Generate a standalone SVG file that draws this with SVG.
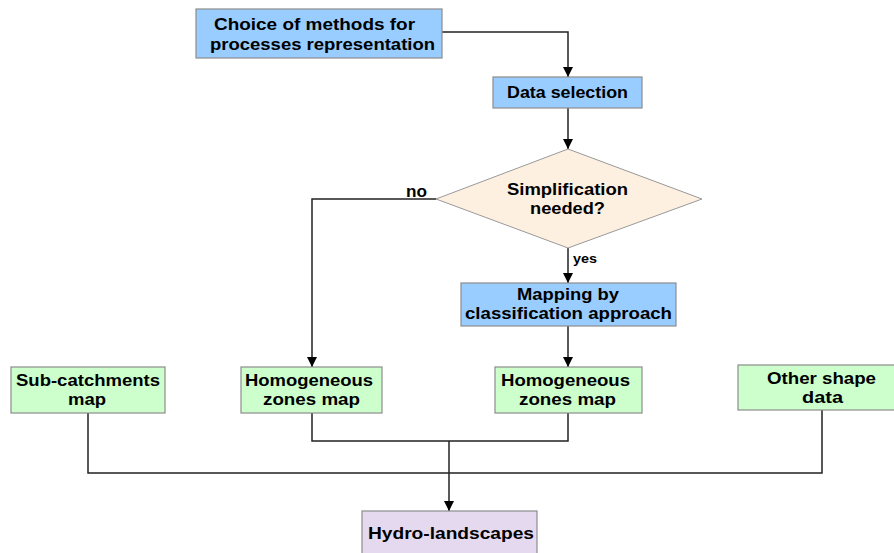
<svg xmlns="http://www.w3.org/2000/svg" width="894" height="553" viewBox="0 0 894 553">
<defs>
<marker id="arr" viewBox="0 0 10 12" refX="10" refY="6" markerWidth="10" markerHeight="12" markerUnits="userSpaceOnUse" orient="auto">
<path d="M0,1 L10,6 L0,11 Z" fill="#000"/>
</marker>
</defs>
<style>
.box{stroke:#8c8c8c;stroke-width:1.2}
.blue{fill:#99ccff}
.green{fill:#ccffcc}
.purple{fill:#e5d9f0}
.dia{fill:#fdf0e1;stroke:#999;stroke-width:1}
.t{font-family:"Liberation Sans",Arial,sans-serif;font-weight:bold;font-size:16px;fill:#000}
.s{font-size:13px}
.c{fill:none;stroke:#222;stroke-width:1.5}
</style>
<rect width="894" height="553" fill="#fff"/>
<g id="connectors">
<polyline class="c" points="442,32 568,32 568,77" marker-end="url(#arr)"/>
<polyline class="c" points="568,104 568,149" marker-end="url(#arr)"/>
<polyline class="c" points="436,199 312,199 312,367" marker-end="url(#arr)"/>
<polyline class="c" points="568,248 568,283" marker-end="url(#arr)"/>
<polyline class="c" points="568,326 568,367" marker-end="url(#arr)"/>
<polyline class="c" points="312,413 312,441 568,441 568,413"/>
<polyline class="c" points="449,441 449,511" marker-end="url(#arr)"/>
<polyline class="c" points="88,413 88,473 822,473 822,410"/>
<text class="t" x="406" y="197" textLength="21" lengthAdjust="spacingAndGlyphs">no</text>
<text class="t s" x="573" y="263" textLength="24" lengthAdjust="spacingAndGlyphs">yes</text>
</g>
<g id="choice">
<rect class="box blue" x="196" y="9" width="246" height="49"/>
<text class="t" x="214" y="30" textLength="201" lengthAdjust="spacingAndGlyphs">Choice of methods for</text>
<text class="t" x="210" y="50" textLength="225" lengthAdjust="spacingAndGlyphs">processes representation</text>
</g>
<g id="data">
<rect class="box blue" x="493" y="77" width="149" height="31"/>
<text class="t" x="507" y="98" textLength="121" lengthAdjust="spacingAndGlyphs">Data selection</text>
</g>
<g id="decision">
<polygon class="dia" points="568,149 702,199 568,248 436,199"/>
<text class="t" x="507" y="195" textLength="121" lengthAdjust="spacingAndGlyphs">Simplification</text>
<text class="t" x="530" y="214" textLength="75" lengthAdjust="spacingAndGlyphs">needed?</text>
</g>
<g id="mapping">
<rect class="box blue" x="461" y="283" width="215" height="43"/>
<text class="t" x="517" y="300" textLength="102" lengthAdjust="spacingAndGlyphs">Mapping by</text>
<text class="t" x="465" y="319" textLength="207" lengthAdjust="spacingAndGlyphs">classification approach</text>
</g>
<g id="subcatchments">
<rect class="box green" x="11" y="367" width="154" height="46"/>
<text class="t" x="16" y="386" textLength="144" lengthAdjust="spacingAndGlyphs">Sub-catchments</text>
<text class="t" x="68" y="405" textLength="38" lengthAdjust="spacingAndGlyphs">map</text>
</g>
<g id="homogeneous1">
<rect class="box green" x="241" y="367" width="141" height="46"/>
<text class="t" x="245" y="386" textLength="128" lengthAdjust="spacingAndGlyphs">Homogeneous</text>
<text class="t" x="263" y="405" textLength="97" lengthAdjust="spacingAndGlyphs">zones map</text>
</g>
<g id="homogeneous2">
<rect class="box green" x="495" y="367" width="147" height="46"/>
<text class="t" x="501" y="386" textLength="129" lengthAdjust="spacingAndGlyphs">Homogeneous</text>
<text class="t" x="519" y="405" textLength="97" lengthAdjust="spacingAndGlyphs">zones map</text>
</g>
<g id="othershape">
<rect class="box green" x="738" y="365" width="160" height="45"/>
<text class="t" x="767" y="384" textLength="109" lengthAdjust="spacingAndGlyphs">Other shape</text>
<text class="t" x="802" y="403" textLength="41" lengthAdjust="spacingAndGlyphs">data</text>
</g>
<g id="hydro">
<rect class="box purple" x="362" y="511" width="175" height="50"/>
<text class="t" x="368" y="539" textLength="166" lengthAdjust="spacingAndGlyphs">Hydro-landscapes</text>
</g>
</svg>
